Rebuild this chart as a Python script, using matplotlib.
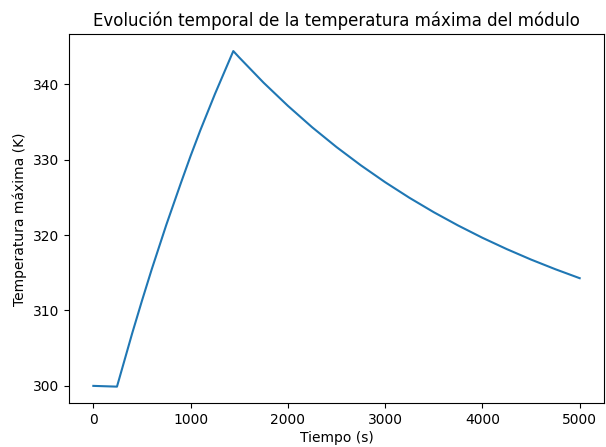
import matplotlib
matplotlib.use("Agg")
import matplotlib.pyplot as plt

# Time (s) and maximum module temperature (K)
tiempo = [0, 243, 400, 500, 600, 750, 900, 1000, 1100, 1250, 1439,
          1500, 1750, 2000, 2250, 2500, 2750, 3000, 3250, 3500, 3750,
          4000, 4250, 4500, 4750, 5000]
temperatura = [300.0, 299.9, 307.0, 311.3, 315.45, 321.35, 326.9, 330.5, 333.9, 338.7, 344.4,
               343.55, 340.21, 337.14, 334.29, 331.67, 329.25, 327.01, 324.94, 323.03, 321.27,
               319.64, 318.14, 316.75, 315.47, 314.28]

fig = plt.figure(figsize=(6.06, 4.47), dpi=100)
ax = fig.add_subplot(111)
fig.subplots_adjust(left=0.1139, right=0.9967, top=0.9233, bottom=0.0975)

ax.plot(tiempo, temperatura, color="#1f77b4", linewidth=1.5)
ax.set_title("Evolución temporal de la temperatura máxima del módulo")
ax.set_xlabel("Tiempo (s)", labelpad=2.5)
ax.set_ylabel("Temperatura máxima (K)")

fig.savefig("out.png", dpi=100)
